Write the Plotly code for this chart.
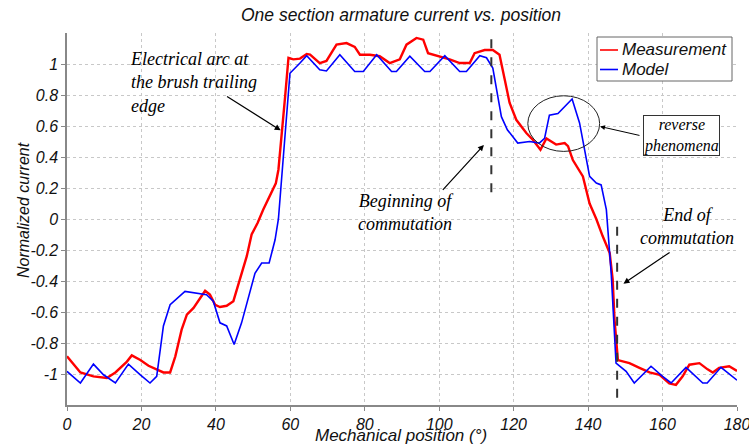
import plotly.graph_objects as go

# ---- data ----
meas_x = [0, 1.5, 3.6, 7.1, 10.7, 13, 16.1, 17.4, 19.7, 21.9, 24.1, 25.9, 27.7, 29.1, 30.8, 32.2, 34, 35.8,
          37.1, 38.4, 39.8, 41.1, 42.9, 44.7, 46.5, 48.3, 49.6, 51.2, 52.7, 54.5, 56.1, 56.8, 57.7, 58.6,
          59.5, 60.8, 62.6, 64.4, 65.3, 67.9, 69.7, 72.4, 75.1, 77.3, 78.7, 81.4, 84, 86.7, 89.4, 91.2,
          93.9, 95.7, 97, 100.1, 102.8, 105.5, 108.2, 109.5, 112.2, 114.4, 116.2, 117.6, 118.9, 120.7,
          123.4, 125.2, 127.2, 128.8, 131.4, 133.7, 134.6, 135.9, 138.6, 140.4, 142.2, 143.9, 145.8,
          146.6, 147.1, 148, 149.3, 151.1, 153.8, 156.5, 159.2, 161.8, 163.6, 165.4, 167.2, 169.9,
          172.1, 173.5, 175.2, 177.9, 180]
meas_y = [-0.886, -0.93, -0.99, -1.015, -1.026, -0.99, -0.92, -0.88, -0.91, -0.947, -0.97, -0.99, -0.99,
          -0.886, -0.714, -0.617, -0.574, -0.51, -0.463, -0.488, -0.553, -0.568, -0.56, -0.53, -0.39,
          -0.24, -0.10, -0.026, 0.06, 0.146, 0.23, 0.318, 0.533, 0.79, 1.04, 1.03, 1.035, 1.065, 1.06,
          1.006, 1.02, 1.125, 1.135, 1.11, 1.06, 1.06, 1.05, 1.006, 1.03, 1.125, 1.168, 1.157, 1.07,
          1.05, 1.03, 1.006, 1.006, 1.07, 1.09, 1.09, 1.06, 0.9, 0.75, 0.64, 0.555, 0.51, 0.447, 0.52,
          0.48, 0.49, 0.47, 0.38, 0.275, 0.1, 0.0, -0.11, -0.22, -0.39, -0.65, -0.91, -0.92, -0.93,
          -0.96, -0.99, -1.005, -1.06, -1.07, -1.015, -0.94, -0.93, -0.97, -0.99, -0.96, -0.95, -0.98]

model_x = [0, 3.6, 7.1, 9.8, 13, 16.5, 19.7, 22.3, 24.1, 25.9, 27.7, 31.7, 37.5, 39.3, 41.1, 42.9, 44.9,
           46.9, 50.5, 52.3, 54.3, 55.9, 56.8, 58.6, 59.9, 62.6, 64.4, 67.9, 69.7, 73.3, 77.3, 79.6,
           83.2, 87.2, 88.5, 92.1, 96.1, 97.5, 101.5, 105.5, 107.3, 110.9, 112.7, 114.4, 115.8, 116.7,
           118.3, 121.1, 124.3, 126.9, 128.3, 129.6, 131.9, 133.7, 135.7, 137.7, 140.4, 142.2, 143.5,
           144.9, 145.8, 146.2, 147.5, 150.2, 152.4, 154.2, 156.9, 160, 162.3, 166.3, 170.8, 172,
           175.7, 180]
model_y = [-0.983, -1.058, -0.936, -1.005, -1.058, -0.936, -1.005, -1.058, -1.015, -0.69, -0.553, -0.467,
           -0.488, -0.53, -0.67, -0.69, -0.81, -0.67, -0.35, -0.284, -0.284, -0.134, 0.0, 0.576, 0.94,
           1.006, 1.053, 0.963, 0.955, 1.06, 0.952, 0.952, 1.06, 0.952, 0.952, 1.05, 0.952, 0.952,
           1.053, 0.952, 0.952, 1.053, 1.04, 0.974, 0.79, 0.66, 0.576, 0.49, 0.5, 0.49, 0.52, 0.67,
           0.68, 0.726, 0.774, 0.62, 0.275, 0.232, 0.22, 0.06, -0.26, -0.35, -0.93, -0.983, -1.058,
           -1.015, -0.95, -1.015, -1.058, -0.957, -1.058, -1.058, -0.957, -1.04]

series_names = ["Measurement", "Model"]
series_colors = ["#ff0000", "#0000ff"]

x_ticks = [0, 20, 40, 60, 80, 100, 120, 140, 160, 180]
y_ticks = [-1, -0.8, -0.6, -0.4, -0.2, 0, 0.2, 0.4, 0.6, 0.8, 1]
y_ticklabels = ["-1", "-0.8", "-0.6", "-0.4", "-0.2", "0", "0.2", "0.4", "0.6", "0.8", "1"]

begin_comm_x = [114, 114]
begin_comm_y = [1.16, 0.14]
end_comm_x = [147.8, 147.8]
end_comm_y = [-0.05, -1.17]
ellipse_x = [123.8, 143.1]
ellipse_y = [0.436, 0.795]

# ---- layout geometry (pixels) ----
W, H = 749, 444
ML, MR, MT, MB = 67, 12, 33, 39
PW, PH = W - ML - MR, H - MT - MB


def px(xp):
    return (xp - ML) / PW


def py(yp):
    return (H - MB - yp) / PH


fig = go.Figure()
fig.add_trace(go.Scatter(x=meas_x, y=meas_y, mode="lines", name=series_names[0],
                         line=dict(color=series_colors[0], width=2.4)))
fig.add_trace(go.Scatter(x=model_x, y=model_y, mode="lines", name=series_names[1],
                         line=dict(color=series_colors[1], width=1.6)))

for xs, ys in [(begin_comm_x, begin_comm_y), (end_comm_x, end_comm_y)]:
    fig.add_shape(type="line", xref="x", yref="y", x0=xs[0], x1=xs[1], y0=ys[0], y1=ys[1],
                  line=dict(color="#333333", width=2, dash="dash"))

fig.add_shape(type="circle", xref="x", yref="y", x0=ellipse_x[0], x1=ellipse_x[1],
              y0=ellipse_y[0], y1=ellipse_y[1], line=dict(color="#222222", width=1))

serif = dict(family="Liberation Serif", size=18, color="black", style="italic")

fig.add_annotation(x=57.4, y=0.572, ax=42.6, ay=0.797, xref="x", yref="y", axref="x", ayref="y",
                   text="", showarrow=True, arrowhead=2, arrowsize=1, arrowwidth=1.2, arrowcolor="black")
fig.add_annotation(x=16.5, y=1.11, xref="x", yref="y", xanchor="left", yanchor="top", showarrow=False,
                   align="left", text="Electrical arc at<br>the brush trailing<br>edge", font=serif)

fig.add_annotation(x=112, y=0.478, ax=100.6, ay=0.178, xref="x", yref="y", axref="x", ayref="y",
                   text="", showarrow=True, arrowhead=2, arrowsize=1, arrowwidth=1.2, arrowcolor="black")
fig.add_annotation(x=91.2, y=0.045, xref="x", yref="y", xanchor="center", yanchor="middle",
                   showarrow=False, align="center", text="Beginning of<br>commutation", font=serif)

fig.add_annotation(x=143.2, y=0.597, ax=154.2, ay=0.537, xref="x", yref="y", axref="x", ayref="y",
                   text="", showarrow=True, arrowhead=2, arrowsize=1, arrowwidth=1, arrowcolor="black")
fig.add_annotation(x=165.1, y=0.537, xref="x", yref="y", xanchor="center", yanchor="middle",
                   showarrow=False, align="center", text="reverse<br>phenomena",
                   font=dict(family="Liberation Serif", size=16, color="black", style="italic"),
                   bordercolor="#333333", borderwidth=1, borderpad=0, bgcolor="white")

fig.add_annotation(x=149.5, y=-0.417, ax=162.3, ay=-0.209, xref="x", yref="y", axref="x", ayref="y",
                   text="", showarrow=True, arrowhead=2, arrowsize=1, arrowwidth=1.2, arrowcolor="black")
fig.add_annotation(x=166.7, y=-0.05, xref="x", yref="y", xanchor="center", yanchor="middle",
                   showarrow=False, align="center", text="End of<br>commutation", font=serif)

sans_it = dict(family="Liberation Sans", size=16, color="#111111", style="italic")

# axis titles
fig.add_annotation(x=px(401), y=py(435.5), xref="paper", yref="paper", xanchor="center",
                   yanchor="middle", showarrow=False, text="Mechanical position (°)",
                   font=dict(family="Liberation Sans", size=17, color="#111111", style="italic"))
fig.add_annotation(x=px(23), y=py(210), xref="paper", yref="paper", xanchor="center", yanchor="middle",
                   showarrow=False, text="Normalized current", font=sans_it, textangle=-90)

# legend (drawn box)
fig.add_shape(type="rect", xref="paper", yref="paper", x0=px(597), x1=px(732), y0=py(81), y1=py(37),
              line=dict(color="#666666", width=1), fillcolor="white", layer="above")
for i, (nm, col) in enumerate(zip(series_names, series_colors)):
    yrow = 50 + 19.5 * i
    fig.add_shape(type="line", xref="paper", yref="paper", x0=px(600), x1=px(618), y0=py(yrow),
                  y1=py(yrow), line=dict(color=col, width=1.6), layer="above")
    fig.add_annotation(x=px(620), y=py(yrow), xref="paper", yref="paper", xanchor="left",
                       yanchor="middle", showarrow=False, text=nm,
                       font=dict(family="Liberation Sans", size=17, color="#111111", style="italic"))

fig.update_layout(
    width=W, height=H,
    margin=dict(l=ML, r=MR, t=MT, b=MB),
    paper_bgcolor="white", plot_bgcolor="white",
    title=dict(text="One section armature current vs. position", x=px(401), xanchor="center",
               xref="paper", y=1 - 15 / H, yanchor="middle",
               font=dict(family="Liberation Sans", size=17.5, color="#111111", style="italic")),
    showlegend=False,
)
fig.update_xaxes(range=[0, 180], tickvals=x_ticks, showgrid=True, gridcolor="#c8c8c8", griddash="dot",
                 gridwidth=1, showline=True, linecolor="#888888", linewidth=1.5, ticks="outside",
                 ticklen=4, tickcolor="#888888", zeroline=False, tickfont=sans_it, automargin=False,
                 ticklabeloverflow="allow")
fig.update_yaxes(range=[-1.2, 1.2], tickvals=y_ticks, ticktext=y_ticklabels, showgrid=True,
                 gridcolor="#c8c8c8", griddash="dot", gridwidth=1, showline=True, linecolor="#888888",
                 linewidth=1.5, ticks="outside", ticklen=4, tickcolor="#888888", zeroline=False,
                 tickfont=sans_it, automargin=False, ticklabeloverflow="allow")

fig.write_html("out.html", config={"displayModeBar": False},
               post_script="document.body.style.margin='0';document.body.style.overflow='hidden';")
